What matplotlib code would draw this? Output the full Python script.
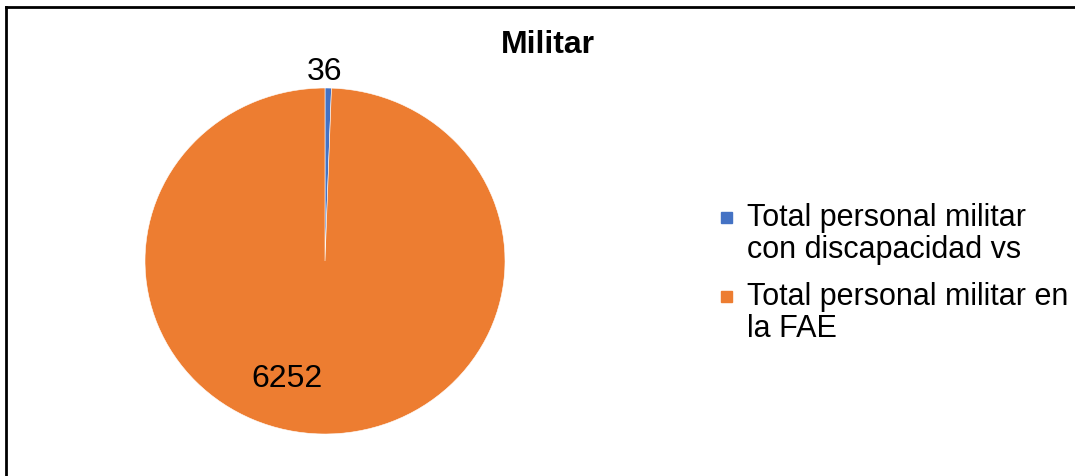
import numpy as np
import matplotlib.pyplot as plt
from matplotlib.patches import Rectangle
from matplotlib.lines import Line2D

plt.rcParams['font.family'] = ['Liberation Sans', 'DejaVu Sans']

labels = ['Total personal militar\ncon discapacidad vs', 'Total personal militar en\nla FAE']
values = [36, 6252]
colors = ['#4472C4', '#ED7D31']
title = 'Militar'

W, H = 1075, 476
fig = plt.figure(figsize=(W / 100, H / 100), dpi=100)
ax = fig.add_axes([145 / W, 42 / H, 360 / W, 346 / H])

wedges, _ = ax.pie(values, colors=colors, startangle=90, counterclock=False,
                   wedgeprops=dict(edgecolor='white', linewidth=0.4))
ax.set_aspect('auto')
ax.set_xlim(-1, 1)
ax.set_ylim(-1, 1)

# data labels (placed like Excel's best fit)
ax.text(0.0, 1.09, str(values[0]), ha='center', va='center', fontsize=23)
ax.text(-0.21, -0.68, str(values[1]), ha='center', va='center', fontsize=23)

fig.text(548 / W, 1 - 45 / H, title, ha='center', va='center',
         fontsize=23, fontweight='bold')

# legend drawn by hand so the square lines up with the first text line
legend_y = [218, 297]
line_gap = 32
for lab, col, y in zip(labels, colors, legend_y):
    fig.patches.append(Rectangle((721 / W, 1 - (y + 5) / H), 11 / W, 11 / H,
                                 transform=fig.transFigure, color=col))
    for i, part in enumerate(lab.split('\n')):
        fig.text(747 / W, 1 - (y + i * line_gap) / H, part, ha='left', va='center',
                 fontsize=22)

# frame: only top and left edges are visible in the crop
fig.lines.append(Line2D([6 / W, 1], [1 - 7 / H, 1 - 7 / H],
                        transform=fig.transFigure, color='black', linewidth=2))
fig.lines.append(Line2D([6 / W, 6 / W], [0, 1 - 7 / H],
                        transform=fig.transFigure, color='black', linewidth=2))

fig.savefig('out.png', dpi=100)
